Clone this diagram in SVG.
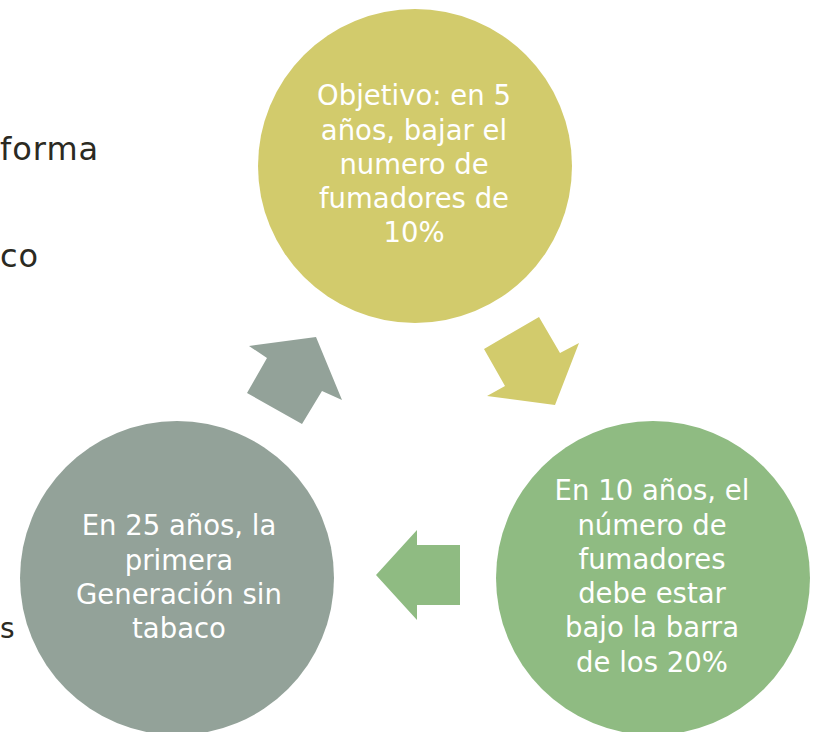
<svg xmlns="http://www.w3.org/2000/svg" width="818" height="732" viewBox="0 0 818 732">
<style>
.lbl{font-family:"DejaVu Sans","Liberation Sans",sans-serif;font-size:27.5px;fill:#ffffff;text-anchor:middle}
.bg{font-family:"DejaVu Sans","Liberation Sans",sans-serif;font-size:32px;fill:#2b2a22;letter-spacing:1px}
</style>
<rect width="818" height="732" fill="#ffffff"/>
<text class="bg" x="0" y="160">forma</text>
<text class="bg" x="0" y="267">co</text>
<text class="bg" x="0" y="638" style="font-size:28px">s</text>
<g id="connectors">
<polygon fill="#93a299" points="249,346 316,337 342,400 322,391 302,424 247,393 267,358"/>
<polygon fill="#d2cb6c" points="484,349 539,317 560,353 579,343 555,405 487,396 505,386"/>
<polygon fill="#8fbb82" points="376,575 417,530 417,545 460,545 460,605 417,605 417,620"/>
</g>
<g id="node-top">
<circle cx="415" cy="166" r="157" fill="#d2cb6c"/>
<text class="lbl" x="414" y="105">Objetivo: en 5</text>
<text class="lbl" x="414" y="140">años, bajar el</text>
<text class="lbl" x="414" y="174">numero de</text>
<text class="lbl" x="414" y="208">fumadores de</text>
<text class="lbl" x="414" y="242">10%</text>
</g>
<g id="node-right">
<circle cx="653" cy="578" r="157" fill="#8fbb82"/>
<text class="lbl" x="652" y="500">En 10 años, el</text>
<text class="lbl" x="652" y="535">número de</text>
<text class="lbl" x="652" y="569">fumadores</text>
<text class="lbl" x="652" y="603">debe estar</text>
<text class="lbl" x="652" y="637">bajo la barra</text>
<text class="lbl" x="652" y="672">de los 20%</text>
</g>
<g id="node-left">
<circle cx="177" cy="578" r="157" fill="#93a299"/>
<text class="lbl" x="179" y="535">En 25 años, la</text>
<text class="lbl" x="179" y="570">primera</text>
<text class="lbl" x="179" y="604">Generación sin</text>
<text class="lbl" x="179" y="638">tabaco</text>
</g>
</svg>
